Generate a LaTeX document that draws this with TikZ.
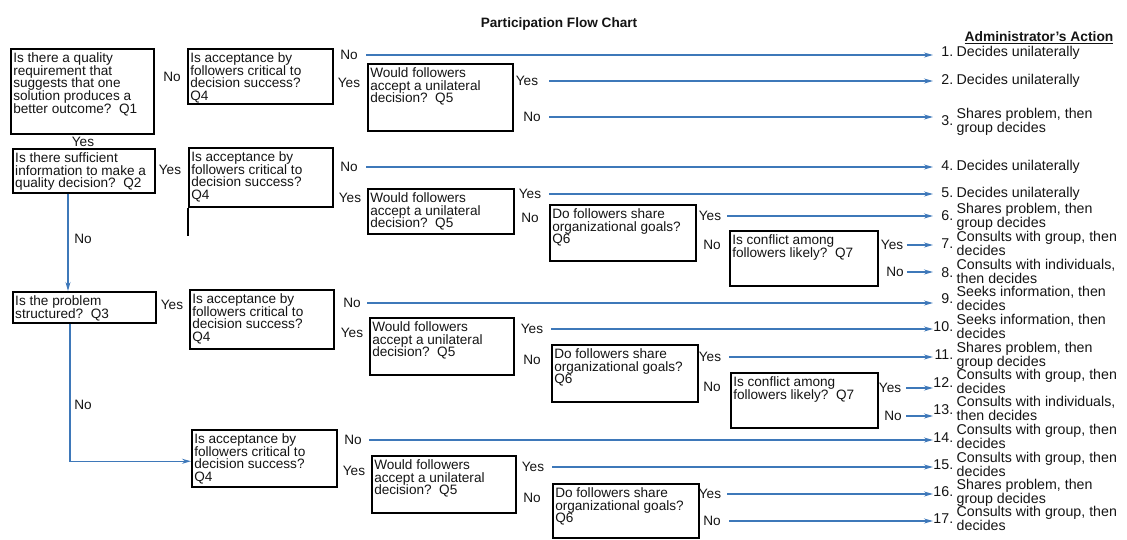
\documentclass[tikz,border=0pt]{standalone}
\usepackage{fontspec}
\setmainfont{Liberation Sans}
\usetikzlibrary{arrows.meta}
\definecolor{flowblue}{RGB}{62,120,185}
\definecolor{ink}{RGB}{20,20,20}
\newcommand\tightlines{\lineskiplimit=-8pt\relax\lineskip=0pt\relax}
\newcommand\qnode[6]{\node[qbox] (#1) at (#2,#3) {\parbox[t][\dimexpr #5pt-8pt\relax][t]{\dimexpr #4pt-5pt\relax}{\tightlines\raggedright #6}};}
\newcommand\actnode[4]{\node[actbox] (#1) at (936,#2) {\makebox[17pt][r]{#3}\hspace{3.5pt}\begin{tabular}[c]{@{}l@{}}#4\end{tabular}};}
\newcommand\flow[3]{\draw[arr, shorten <=#3pt] (#1.east) -- (#1 -| #2.west);}
\begin{document}
\begin{tikzpicture}[x=1pt,y=-1pt,
  font=\fontsize{13.6pt}{12.6pt}\selectfont, text=ink,
  qbox/.style={draw=black, line width=1.5pt, anchor=north west, inner xsep=2.5pt, inner ysep=4pt},
  lbl/.style={inner sep=1pt, text depth=0pt},
  actbox/.style={anchor=west, inner sep=0pt, font=\fontsize{14.2pt}{13.1pt}\selectfont},
  arr/.style={draw=flowblue, line width=1.2pt, -{Stealth[length=9pt,width=5pt]}, shorten >=3pt}]
\useasboundingbox (0,0) rectangle (1127,539);

% titles
\node[font=\fontsize{13.6pt}{14pt}\selectfont\bfseries] (title) at (559,24) {Participation Flow Chart};
\node[font=\fontsize{13.8pt}{14pt}\selectfont\bfseries] (hdr) at (1039,38) {\underline{Administrator's Action}};

% question boxes
\qnode{q1}{10}{48}{143}{85}{Is there a quality\\requirement that\\suggests that one\\solution produces a\\better outcome?~~Q1}
\qnode{q4a}{187}{48}{145}{55}{Is acceptance by\\followers critical to\\decision success?\\Q4}
\qnode{q5a}{367}{63}{145}{67}{Would followers\\accept a unilateral\\decision?~~Q5}
\qnode{q2}{12}{148}{142}{44}{Is there sufficient\\information to make a\\quality decision?~~Q2}
\qnode{q4b}{188}{147}{144}{59}{Is acceptance by\\followers critical to\\decision success?\\Q4}
\draw[line width=1.5pt] (q4b.south west) -- ++(0,28);
\qnode{q5b}{367}{188}{146}{45}{Would followers\\accept a unilateral\\decision?~~Q5}
\qnode{q6a}{549}{204}{146}{56}{Do followers share\\organizational goals?\\Q6}
\qnode{q7a}{729}{230}{148}{55}{Is conflict among\\followers likely?~~Q7}
\qnode{q3}{12}{291}{143}{31}{Is the problem\\structured?~~Q3}
\qnode{q4c}{189}{289}{144}{59}{Is acceptance by\\followers critical to\\decision success?\\Q4}
\qnode{q5c}{369}{317}{144}{57}{Would followers\\accept a unilateral\\decision?~~Q5}
\qnode{q6b}{551}{344}{146}{57}{Do followers share\\organizational goals?\\Q6}
\qnode{q7b}{730}{372}{147}{55}{Is conflict among\\followers likely?~~Q7}
\qnode{q4d}{191}{429}{145}{57}{Is acceptance by\\followers critical to\\decision success?\\Q4}
\qnode{q5d}{371}{455}{144}{57}{Would followers\\accept a unilateral\\decision?~~Q5}
\qnode{q6d}{552}{483}{146}{54}{Do followers share\\organizational goals?\\Q6}

% actions
\actnode{a1}{53}{1.}{Decides unilaterally}
\actnode{a2}{81}{2.}{Decides unilaterally}
\actnode{a3}{122}{3.}{Shares problem, then\\group decides}
\actnode{a4}{167}{4.}{Decides unilaterally}
\actnode{a5}{194}{5.}{Decides unilaterally}
\actnode{a6}{217}{6.}{Shares problem, then\\group decides}
\actnode{a7}{245}{7.}{Consults with group, then\\decides}
\actnode{a8}{273.5}{8.}{Consults with individuals,\\then decides}
\actnode{a9}{300}{9.}{Seeks information, then\\decides}
\actnode{a10}{328}{10.}{Seeks information, then\\decides}
\actnode{a11}{356}{11.}{Shares problem, then\\group decides}
\actnode{a12}{383.5}{12.}{Consults with group, then\\decides}
\actnode{a13}{410.5}{13.}{Consults with individuals,\\then decides}
\actnode{a14}{438.5}{14.}{Consults with group, then\\decides}
\actnode{a15}{466}{15.}{Consults with group, then\\decides}
\actnode{a16}{493}{16.}{Shares problem, then\\group decides}
\actnode{a17}{520}{17.}{Consults with group, then\\decides}

% branch labels without lines
\node[lbl] (q1no) at (172,77) {No};
\node[lbl] (q1yes) at (83,142) {Yes};
\node[lbl] (q4ayes) at (349,83) {Yes};
\node[lbl] (q2yes) at (170,170) {Yes};
\node[lbl] (q2no) at (83,239) {No};
\node[lbl] (q4byes) at (350,198) {Yes};
\node[lbl] (q5bno) at (530,218) {No};
\node[lbl] (q6ano) at (712,245) {No};
\node[lbl] (q3yes) at (172,305) {Yes};
\node[lbl] (q4cyes) at (352,333) {Yes};
\node[lbl] (q5cno) at (532,360) {No};
\node[lbl] (q6bno) at (712,387) {No};
\node[lbl] (q3no) at (83,405) {No};
\node[lbl] (q4dyes) at (354,471) {Yes};
\node[lbl] (q5dno) at (532,498) {No};

% branch labels with arrows to actions
\node[lbl] (l1) at (349,55) {No};
\node[lbl] (l2) at (527,81) {Yes};
\node[lbl] (l3) at (532,117) {No};
\node[lbl] (l4) at (349,167) {No};
\node[lbl] (l5) at (530,194) {Yes};
\node[lbl] (l6) at (710,216) {Yes};
\node[lbl] (l7) at (892,245) {Yes};
\node[lbl] (l8) at (895,272) {No};
\node[lbl] (l9) at (352,303) {No};
\node[lbl] (l10) at (532,329) {Yes};
\node[lbl] (l11) at (710,357) {Yes};
\node[lbl] (l12) at (890,388) {Yes};
\node[lbl] (l13) at (893,416) {No};
\node[lbl] (l14) at (353,440) {No};
\node[lbl] (l15) at (533,467) {Yes};
\node[lbl] (l16) at (710,494) {Yes};
\node[lbl] (l17) at (712,521) {No};

\flow{l1}{a1}{7.5}
\flow{l2}{a2}{10}
\flow{l3}{a3}{7.5}
\flow{l4}{a4}{7.5}
\flow{l5}{a5}{7}
\flow{l6}{a6}{5}
\flow{l7}{a7}{2.5}
\flow{l8}{a8}{2}
\flow{l9}{a9}{5.5}
\flow{l10}{a10}{7}
\flow{l11}{a11}{7}
\flow{l12}{a12}{4}
\flow{l13}{a13}{3.5}
\flow{l14}{a14}{6.5}
\flow{l15}{a15}{7}
\flow{l16}{a16}{5}
\flow{l17}{a17}{7.5}

% question-to-question blue connectors
\draw[arr, shorten >=0pt] ([xshift=56pt]q2.south west) -- ([xshift=56pt]q3.north west);
\draw[arr, shorten >=0pt] ([xshift=58pt]q3.south west) |- ([yshift=-3pt]q4d.west);
\end{tikzpicture}
\end{document}
